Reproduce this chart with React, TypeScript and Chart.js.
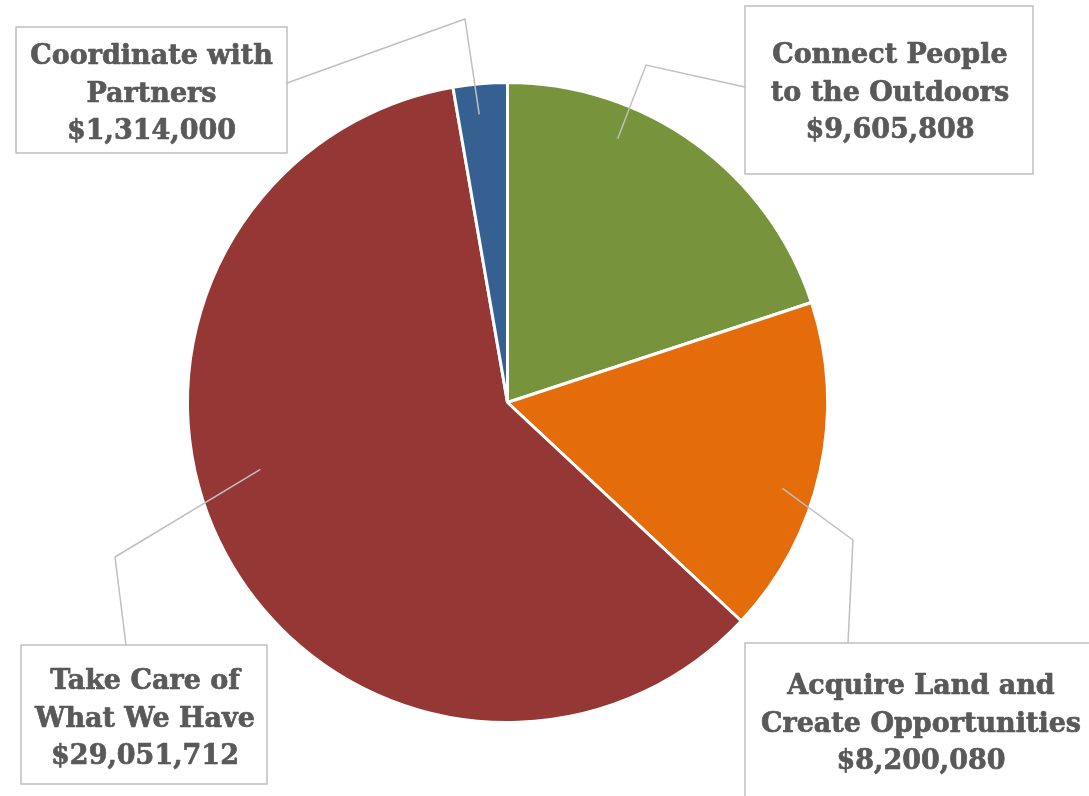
import React, { useEffect, useRef } from "react";
import { Chart, registerables } from "chart.js";

Chart.register(...registerables);

const categories = [
  "Connect People to the Outdoors",
  "Acquire Land and Create Opportunities",
  "Take Care of What We Have",
  "Coordinate with Partners",
];
const labelLines = [
  ["Connect People", "to the Outdoors"],
  ["Acquire Land and", "Create Opportunities"],
  ["Take Care of", "What We Have"],
  ["Coordinate with", "Partners"],
];
const values = [9605808, 8200080, 29051712, 1314000];
const colors = ["#77933C", "#E46C0A", "#953735", "#376092"];

// callout layout: box rect, first baseline, leader path (box point, elbow), anchor (fraction of slice angle, fraction of radius)
const callouts = [
  { box: [745, 6, 288, 168], cx: 890, base: 63, from: [745, 87], elbow: [646, 65], af: 0.316, rf: 0.893 },
  { box: [745, 643, 360, 170], cx: 921, base: 694, from: [848, 643], elbow: [853, 540], af: 0.58, rf: 0.9 },
  { box: [21, 645, 246, 139], cx: 145, base: 689, from: [126, 645], elbow: [115, 557], af: 0.561, rf: 0.8 },
  { box: [16, 27, 271, 126], cx: 151.5, base: 64, from: [287, 83], elbow: [465, 19], af: 0.43, rf: 0.905 },
];

const FONT = "bold 27px 'DejaVu Serif'";
const LINE_H = 37.5;

const calloutPlugin = {
  id: "callouts",
  afterDatasetsDraw(chart: any) {
    const ctx = chart.ctx;
    const meta = chart.getDatasetMeta(0);
    ctx.save();
    meta.data.forEach((arc: any, i: number) => {
      const c = callouts[i];
      const p = arc.getProps(["x", "y", "startAngle", "endAngle", "outerRadius"], true);
      const ang = p.startAngle + c.af * (p.endAngle - p.startAngle);
      const r = c.rf * p.outerRadius;
      const ax = p.x + Math.cos(ang) * r;
      const ay = p.y + Math.sin(ang) * r;
      // leader
      ctx.strokeStyle = "#BFBFBF";
      ctx.lineWidth = 1.5;
      ctx.beginPath();
      ctx.moveTo(c.from[0], c.from[1]);
      ctx.lineTo(c.elbow[0], c.elbow[1]);
      ctx.lineTo(ax, ay);
      ctx.stroke();
      // box
      const [bx, by, bw, bh] = c.box;
      ctx.fillStyle = "#FFFFFF";
      ctx.fillRect(bx, by, bw, bh);
      ctx.strokeStyle = "#BFBFBF";
      ctx.lineWidth = 1.5;
      ctx.strokeRect(bx, by, bw, bh);
      // text
      ctx.fillStyle = "#595959";
      ctx.strokeStyle = "#595959";
      ctx.lineWidth = 0.7;
      ctx.lineJoin = "round";
      ctx.font = FONT;
      ctx.textAlign = "center";
      ctx.textBaseline = "alphabetic";
      const lines = [...labelLines[i], "$" + values[i].toLocaleString("en-US")];
      lines.forEach((t, k) => {
        ctx.fillText(t, c.cx, c.base + k * LINE_H);
        ctx.strokeText(t, c.cx, c.base + k * LINE_H);
      });
    });
    ctx.restore();
  },
};

export default function App() {
  const ref = useRef<HTMLCanvasElement | null>(null);
  useEffect(() => {
    if (!ref.current) return;
    const chart = new Chart(ref.current, {
      type: "pie",
      data: {
        labels: categories,
        datasets: [
          {
            data: values,
            backgroundColor: colors,
            borderColor: "#FFFFFF",
            borderWidth: 3,
          },
        ],
      },
      options: {
        animation: false,
        responsive: true,
        maintainAspectRatio: false,
        layout: { padding: { left: 186, right: 260, top: 81, bottom: 72 } },
        plugins: { legend: { display: false }, tooltip: { enabled: false } },
      },
      plugins: [calloutPlugin],
    });
    return () => chart.destroy();
  }, []);
  return (
    <div style={{ position: "absolute", left: 0, top: 0, width: 1089, height: 796, background: "#fff" }}>
      <canvas ref={ref} />
    </div>
  );
}
